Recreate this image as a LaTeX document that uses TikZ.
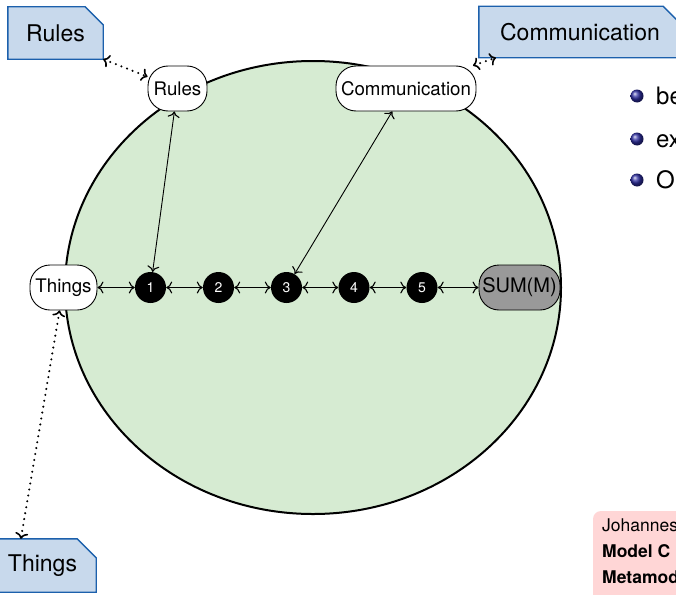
\documentclass[tikz,border=0pt]{standalone}
\usepackage{fontspec}
\setmainfont{TeX Gyre Heros}
\usetikzlibrary{arrows.meta,shapes.geometric,backgrounds}
\definecolor{worldgreen}{RGB}{214,235,210}
\definecolor{boxblue}{RGB}{200,217,236}
\definecolor{boxedge}{RGB}{28,96,172}
\definecolor{sumgray}{RGB}{153,153,153}
\definecolor{notepink}{RGB}{255,214,214}
\definecolor{ballblue}{RGB}{45,45,160}
\begin{document}
\begin{tikzpicture}[x=1pt,y=-1pt,
  link/.style={{To[length=6pt,width=12pt,line width=1.1pt]}-{To[length=6pt,width=12pt,line width=1.1pt]}, line width=0.9pt},
  dotlink/.style={{To[length=6pt,width=13pt,line width=1.6pt]}-{To[length=6pt,width=13pt,line width=1.6pt]},
    line width=2.3pt, dash pattern=on 0pt off 6pt, line cap=round},
  smallnode/.style={draw, fill=white, rounded corners=20pt, minimum height=45pt, inner sep=0pt,
    font=\fontsize{18.7pt}{22pt}\selectfont, line width=0.9pt},
  numnode/.style={circle, fill=black, text=white, minimum size=31pt, inner sep=0pt,
    font=\fontsize{14pt}{16pt}\selectfont},
  bluelabel/.style={inner sep=0pt, font=\fontsize{23pt}{27pt}\selectfont},
  blueshape/.style={fill=boxblue, draw=boxedge, line width=1.4pt},
  bullettext/.style={anchor=base west, inner sep=0pt, font=\fontsize{24pt}{28pt}\selectfont},
  notetext/.style={anchor=base west, inner sep=0pt, font=\fontsize{17.5pt}{20pt}\selectfont}]
\useasboundingbox (0,0) rectangle (676,594);
\clip (0,0) rectangle (676,594);

% world
\node[ellipse, draw, line width=2pt, fill=worldgreen, minimum width=496pt,
  minimum height=453pt, inner sep=0pt] (world) at (313,287.5) {};

% inner nodes
\node[smallnode, minimum width=67pt] (things) at (63.5,287.5) {Things};
\node[numnode] (n1) at (150.5,287.5) {1};
\node[numnode] (n2) at (218.5,287.5) {2};
\node[numnode] (n3) at (286.5,287.5) {3};
\node[numnode] (n4) at (354,287.5) {4};
\node[numnode] (n5) at (422,287.5) {5};
\node[smallnode, minimum width=81pt, fill=sumgray, font=\fontsize{20pt}{24pt}\selectfont] (sum) at (519.5,287.5) {SUM(M)};
\node[smallnode, minimum width=59pt] (rules) at (177.5,88.5) {Rules};
\node[smallnode, minimum width=140pt] (comm) at (406,88.5) {Communication};

% blue boxes
\node[bluelabel, minimum width=95pt, minimum height=52pt] (rulesbox) at (55.5,33) {Rules};
\node[bluelabel, minimum width=202pt, minimum height=51pt] (commbox) at (580,32) {Communication};
\node[bluelabel, minimum width=107pt, minimum height=53pt] (thingsbox) at (42.5,565.5) {Things};
\begin{scope}[on background layer]
  \foreach \b/\c in {rulesbox/18pt, commbox/18pt, thingsbox/19pt}{
    \draw[blueshape] (\b.south west) -- (\b.north west) -- ([xshift=-\c]\b.north east)
      -- ([yshift=-\c]\b.north east) -- (\b.south east) -- cycle;
  }
\end{scope}

% connectors
\draw[link] (things) -- (n1);
\draw[link] (n1) -- (n2);
\draw[link] (n2) -- (n3);
\draw[link] (n3) -- (n4);
\draw[link] (n4) -- (n5);
\draw[link] (n5) -- (sum);
\draw[link] (rules) -- (n1);
\draw[link] (comm) -- (n3);
\draw[dotlink] (rulesbox.south east) -- (rules);
\draw[dotlink] (comm) -- (commbox.197);
\draw[dotlink] (things) -- (thingsbox.129);

% bullets
\shade[ball color=ballblue] (637,96) circle [radius=6.5pt];
\shade[ball color=ballblue] (637,139) circle [radius=6.5pt];
\shade[ball color=ballblue] (637,180) circle [radius=6.5pt];
\node[bullettext] (b1) at (656,104) {be};
\node[bullettext] (b2) at (656,147) {ex};
\node[bullettext] (b3) at (656,188.5) {O};

% note box
\fill[notepink, rounded corners=8pt] (593,511) rectangle (740,640);
\node[notetext] (t1) at (602,531) {Johannes};
\node[notetext] (t2) at (602,557) {\bfseries Model C};
\node[notetext] (t3) at (602,583) {\bfseries Metamod};
\end{tikzpicture}
\end{document}
